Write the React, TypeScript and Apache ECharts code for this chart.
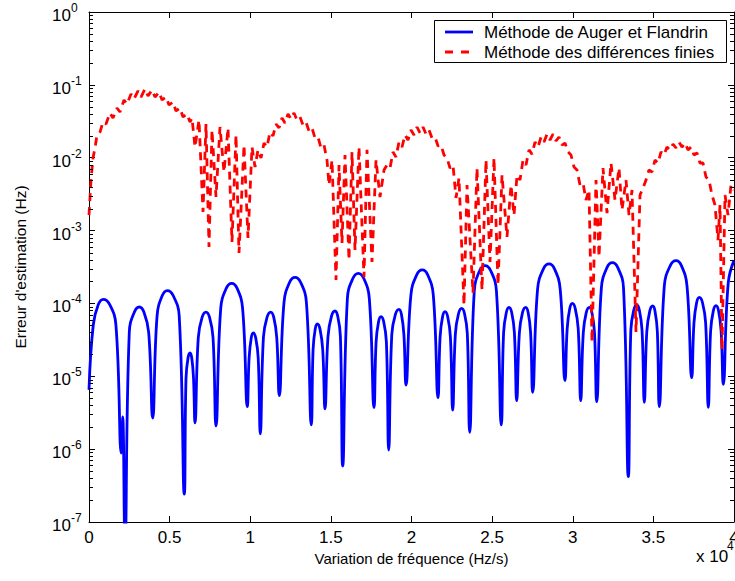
import React, { useEffect, useRef } from 'react';
import * as echarts from 'echarts';

const FONT = '"Liberation Sans", Arial, Helvetica, sans-serif';

const seriesNames = ['Méthode de Auger et Flandrin', 'Méthode des différences finies'];
const xAxisTitle = 'Variation de fréquence (Hz/s)';
const yAxisTitle = "Erreur d'estimation (Hz)";
const xExponentLabel = 'x 10';
const xExponent = '4';

const xMin = 0;
const xMax = 40000;
const xStep = 5000;
const xScale = 10000;
const yMin = 1e-7;
const yMax = 1;

// Blue curve: dips, shoulders and lobe tops
const augerFlandrin: [number, number][] = [
  [0, 6.5e-6], [266, 5.1e-5], [577, 9.7e-5], [887, 1.14e-4], [1278, 9.7e-5], [1668, 5.1e-5],
  [2003, 8.85e-7], [2090, 2.76e-6], [2233, 5e-8],
  [2499, 4.02e-5], [2809, 7.59e-5], [3119, 8.93e-5], [3410, 7.59e-5], [3701, 4.02e-5], [3950, 2.67e-6],
  [4222, 6.75e-5], [4539, 1.275e-4], [4856, 1.5e-4], [5225, 1.275e-4], [5594, 6.75e-5], [5910, 2.42e-7],
  [6016, 9.4e-6], [6140, 1.78e-5], [6264, 2.09e-5], [6373, 1.78e-5], [6481, 9.4e-6], [6574, 2.29e-6],
  [6779, 3.43e-5], [7017, 6.48e-5], [7256, 7.62e-5], [7473, 6.48e-5], [7690, 3.43e-5], [7876, 2.08e-6],
  [8168, 8.5e-5], [8509, 1.61e-4], [8850, 1.89e-4], [9188, 1.61e-4], [9527, 8.5e-5], [9817, 3.83e-6],
  [9929, 1.77e-5], [10059, 3.34e-5], [10190, 3.93e-5], [10342, 3.34e-5], [10494, 1.77e-5], [10624, 1.62e-6],
  [10818, 3.43e-5], [11043, 6.48e-5], [11269, 7.62e-5], [11456, 6.48e-5], [11642, 3.43e-5], [11802, 5.42e-6],
  [12094, 1.03e-4], [12434, 1.94e-4], [12775, 2.28e-4], [13129, 1.94e-4], [13483, 1.03e-4], [13786, 2.15e-6],
  [13898, 2.35e-5], [14028, 4.44e-5], [14158, 5.22e-5], [14325, 4.44e-5], [14493, 2.35e-5], [14636, 3.56e-6],
  [14822, 3.54e-5], [15039, 6.69e-5], [15256, 7.87e-5], [15423, 6.69e-5], [15590, 3.54e-5], [15733, 5.87e-7],
  [16023, 1.17e-4], [16362, 2.2e-4], [16701, 2.59e-4], [17042, 2.2e-4], [17383, 1.17e-4], [17675, 3.71e-6],
  [17805, 2.96e-5], [17957, 5.59e-5], [18109, 6.58e-5], [18276, 5.59e-5], [18443, 2.96e-5], [18586, 9.73e-7],
  [18778, 3.74e-5], [19001, 7.06e-5], [19225, 8.3e-5], [19377, 7.06e-5], [19529, 3.74e-5], [19659, 7.59e-6],
  [19962, 1.3e-4], [20316, 2.45e-4], [20670, 2.88e-4], [21011, 2.45e-4], [21352, 1.3e-4], [21644, 5.08e-6],
  [21774, 3.47e-5], [21926, 6.55e-5], [22078, 7.71e-5], [22245, 6.55e-5], [22412, 3.47e-5], [22555, 3.44e-6],
  [22722, 3.86e-5], [22918, 7.28e-5], [23113, 8.57e-5], [23287, 7.28e-5], [23461, 3.86e-5], [23610, 1.7e-6],
  [23894, 1.49e-4], [24226, 2.81e-4], [24558, 3.3e-4], [24912, 2.81e-4], [25266, 1.49e-4], [25569, 2.15e-6],
  [25712, 3.98e-5], [25880, 7.52e-5], [26047, 8.85e-5], [26214, 7.52e-5], [26381, 3.98e-5], [26524, 4.62e-6],
  [26691, 3.98e-5], [26887, 7.52e-5], [27082, 8.85e-5], [27234, 7.52e-5], [27386, 3.98e-5], [27516, 6.03e-6],
  [27819, 1.57e-4], [28173, 2.96e-4], [28527, 3.48e-4], [28874, 2.96e-4], [29221, 1.57e-4], [29518, 8.75e-6],
  [29655, 4.5e-5], [29814, 8.5e-5], [29973, 1.0e-4], [30155, 8.5e-5], [30338, 4.5e-5], [30494, 4.62e-6],
  [30654, 3.98e-5], [30840, 7.52e-5], [31027, 8.85e-5], [31188, 7.52e-5], [31348, 3.98e-5], [31486, 4.48e-6],
  [31776, 1.63e-4], [32115, 3.08e-4], [32453, 3.62e-4], [32801, 3.08e-4], [33148, 1.63e-4], [33446, 4.19e-7],
  [33602, 4.28e-5], [33785, 8.08e-5], [33967, 9.51e-5], [34132, 8.08e-5], [34297, 4.28e-5], [34438, 4.4e-6],
  [34594, 4.15e-5], [34776, 7.84e-5], [34958, 9.22e-5], [35102, 7.84e-5], [35245, 4.15e-5], [35368, 3.83e-6],
  [35679, 1.74e-4], [36041, 3.28e-4], [36404, 3.86e-4], [36745, 3.28e-4], [37085, 1.74e-4], [37377, 9.57e-6],
  [37519, 5.45e-5], [37684, 1.03e-4], [37849, 1.21e-4], [38044, 1.03e-4], [38240, 5.45e-5], [38407, 3.75e-6],
  [38550, 4.19e-5], [38717, 7.91e-5], [38884, 9.31e-5], [39042, 7.91e-5], [39200, 4.19e-5], [39336, 7.76e-6],
  [39641, 1.9e-4], [40000, 3.9e-4],
];

// Red dashed curve: ripple tops / bottoms and deep excursions
const differencesFinies: [number, number][] = [
  [0, 1.63e-3], [124, 4.94e-3], [248, 9.91e-3], [372, 1.36e-2], [496, 2.05e-2], [682, 2.25e-2],
  [868, 3.09e-2], [1054, 2.9e-2], [1302, 4.11e-2], [1488, 3.51e-2], [1736, 4.81e-2], [1922, 4.24e-2],
  [2171, 6.2e-2], [2357, 5.46e-2], [2605, 7.49e-2], [2791, 6.4e-2], [3039, 8.24e-2], [3225, 6.81e-2],
  [3473, 8.77e-2], [3659, 7.03e-2], [3907, 8.5e-2], [4093, 6.81e-2], [4341, 7.98e-2], [4527, 6.2e-2],
  [4775, 6.81e-2], [4961, 5.29e-2], [5209, 5.82e-2], [5395, 4.38e-2], [5643, 4.81e-2], [5829, 3.62e-2],
  [6078, 3.99e-2], [6264, 3.09e-2], [6388, 3.51e-2], [6574, 1.4e-2], [6822, 3.29e-2], [7070, 1.8e-3],
  [7256, 2.9e-2], [7442, 5.95e-4], [7628, 2.4e-2], [7876, 2.89e-3], [8124, 2.64e-2], [8372, 6.37e-3],
  [8620, 2.56e-2], [8868, 6.97e-4], [9116, 2.05e-2], [9302, 4.92e-4], [9613, 1.49e-2], [9861, 7.91e-4],
  [10109, 1.4e-2], [10295, 7.45e-3], [10481, 1.28e-2], [10667, 9.91e-3], [10853, 1.59e-2], [11039, 1.4e-2],
  [11225, 2.25e-2], [11411, 1.99e-2], [11597, 2.9e-2], [11783, 2.56e-2], [11969, 3.51e-2], [12155, 2.99e-2],
  [12341, 3.99e-2], [12527, 3.4e-2], [12713, 4.11e-2], [12899, 3.29e-2], [13085, 3.62e-2], [13271, 2.81e-2],
  [13457, 3.09e-2], [13643, 2.32e-2], [13830, 2.56e-2], [14016, 1.86e-2], [14202, 1.92e-2], [14388, 1.36e-2],
  [14574, 1.49e-2], [14760, 9.3e-3], [14884, 4.22e-3], [15070, 9.3e-3], [15318, 2.1e-4], [15506, 7.94e-3],
  [15690, 6.75e-4], [15876, 1.09e-2], [16124, 3.95e-4], [16310, 1.2e-2], [16496, 5.41e-4], [16744, 1.4e-2],
  [17054, 2.3e-4], [17240, 1.28e-2], [17550, 3.7e-4], [17799, 9.3e-3], [18047, 2.89e-3], [18295, 6.79e-3],
  [18481, 7.94e-3], [18667, 7.22e-3], [18853, 1.2e-2], [19039, 1.02e-2], [19225, 1.64e-2], [19411, 1.4e-2],
  [19597, 2.05e-2], [19783, 1.75e-2], [19969, 2.4e-2], [20155, 2.05e-2], [20341, 2.64e-2], [20527, 2.18e-2],
  [20713, 2.64e-2], [20899, 2.11e-2], [21085, 2.4e-2], [21271, 1.86e-2], [21458, 1.92e-2], [21644, 1.45e-2],
  [21830, 1.49e-2], [22016, 1.09e-2], [22202, 9.91e-3], [22388, 7.22e-3], [22574, 7.94e-3], [22760, 2.8e-3],
  [22946, 5.26e-3], [23256, 9.52e-5], [23442, 4.22e-3], [23814, 1.39e-4], [24062, 7.22e-3], [24372, 1.53e-4],
  [24620, 9.3e-3], [24868, 3.7e-4], [25116, 9.91e-3], [25365, 1.79e-4], [25613, 5.79e-3], [25923, 8.16e-4],
  [26171, 4.22e-3], [26357, 1.63e-3], [26543, 5.79e-3], [26729, 4.94e-3], [26915, 9.3e-3], [27101, 7.94e-3],
  [27287, 1.28e-2], [27473, 1.12e-2], [27659, 1.64e-2], [27845, 1.4e-2], [28031, 1.92e-2], [28217, 1.64e-2],
  [28403, 2.11e-2], [28589, 1.75e-2], [28775, 2.11e-2], [28961, 1.7e-2], [29148, 1.92e-2], [29334, 1.49e-2],
  [29520, 1.59e-2], [29706, 1.2e-2], [29892, 1.09e-2], [30078, 7.45e-3], [30264, 6.79e-3], [30450, 4.22e-3],
  [30636, 4.5e-3], [30822, 2.63e-3], [31008, 3.61e-3], [31194, 2.95e-5], [31442, 4.94e-3], [31628, 4.34e-4],
  [31876, 7.22e-3], [32124, 1.74e-3], [32372, 8.46e-3], [32620, 2.63e-3], [32868, 7.22e-3], [33054, 1.92e-3],
  [33303, 4.94e-3], [33489, 1.63e-3], [33675, 3.61e-3], [33923, 4.06e-5], [34171, 3.08e-3], [34357, 3.84e-3],
  [34543, 4.94e-3], [34729, 6.79e-3], [34915, 6.37e-3], [35101, 9.3e-3], [35287, 8.46e-3], [35473, 1.2e-2],
  [35659, 1.09e-2], [35845, 1.4e-2], [36031, 1.28e-2], [36217, 1.54e-2], [36404, 1.36e-2], [36590, 1.64e-2],
  [36776, 1.4e-2], [36962, 1.59e-2], [37148, 1.28e-2], [37334, 1.4e-2], [37520, 1.09e-2], [37706, 1.16e-2],
  [37892, 8.46e-3], [38078, 8.46e-3], [38264, 5.43e-3], [38450, 4.94e-3], [38636, 3.08e-3], [38822, 2.24e-3],
  [39008, 7.42e-4], [39132, 2.24e-3], [39256, 2.29e-5], [39442, 3.08e-3], [39628, 1.63e-3], [39814, 4.22e-3],
  [40000, 3.61e-3],
];

// log minor tick values (2..9 x 10^n)
const minorTickMultipliers = [2, 3, 4, 5, 6, 7, 8, 9];
const decadeExponents = [-7, -6, -5, -4, -3, -2, -1];
const minorTickValues: number[] = [];
decadeExponents.forEach((e) => minorTickMultipliers.forEach((m) => minorTickValues.push(m * Math.pow(10, e))));

const BLUE = '#0000ff';
const RED = '#ff0000';

export default function App() {
  const ref = useRef<HTMLDivElement>(null);

  useEffect(() => {
    if (!ref.current) return;
    const chart = echarts.init(ref.current, undefined, { renderer: 'svg' });

    const axisLine = { show: true, onZero: false, lineStyle: { color: '#000', width: 1 } };
    const yLabelRich = {
      b: { fontSize: 17, fontFamily: FONT, color: '#000', padding: [7, 0, 0, 0] },
      s: { fontSize: 12, fontFamily: FONT, color: '#000', padding: [0, 0, 8, 0] },
    };

    const option: any = {
      animation: false,
      backgroundColor: '#ffffff',
      grid: { left: 89, top: 12, right: 1, bottom: 59, containLabel: false, outerBoundsMode: 'none' },
      xAxis: [
        {
          type: 'value', position: 'bottom', min: xMin, max: xMax, interval: xStep,
          axisLine,
          axisTick: { show: true, inside: true, length: 6, lineStyle: { color: '#000', width: 1 } },
          axisLabel: {
            show: true, color: '#000', fontSize: 17, fontFamily: FONT, margin: 7,
            formatter: (v: number) => String(v / xScale),
            showMinLabel: true, showMaxLabel: true,
          },
          splitLine: { show: false },
          name: xAxisTitle, nameLocation: 'middle', nameGap: 26,
          nameTextStyle: { color: '#000', fontSize: 15, fontFamily: FONT },
        },
        {
          type: 'value', position: 'top', min: xMin, max: xMax, interval: xStep,
          axisLine,
          axisTick: { show: true, inside: true, length: 6, lineStyle: { color: '#000', width: 1 } },
          axisLabel: { show: false },
          splitLine: { show: false },
        },
      ],
      yAxis: [
        {
          type: 'log', logBase: 10, position: 'left', min: yMin, max: yMax, splitNumber: 7,
          axisLine,
          axisTick: { show: true, inside: true, length: 6, lineStyle: { color: '#000', width: 1 } },
          axisLabel: {
            show: true, align: 'left', margin: 37,
            formatter: (v: number) => `{b|10}{s|${Math.round(Math.log10(v))}}`,
            rich: yLabelRich,
          },
          splitLine: { show: false },
          minorTick: { show: false },
          name: yAxisTitle, nameLocation: 'middle', nameGap: 61, nameRotate: 90,
          nameTextStyle: { color: '#000', fontSize: 15.5, fontFamily: FONT },
        },
        {
          type: 'log', logBase: 10, position: 'right', min: yMin, max: yMax, splitNumber: 7,
          axisLine,
          axisTick: { show: true, inside: true, length: 6, lineStyle: { color: '#000', width: 1 } },
          axisLabel: { show: false },
          splitLine: { show: false },
        },
      ],
      series: [
        {
          name: seriesNames[0], type: 'line', xAxisIndex: 0, yAxisIndex: 0,
          data: augerFlandrin, symbol: 'none', smooth: 0.45, clip: true,
          lineStyle: { color: BLUE, width: 2.8, join: 'round' }, z: 3,
        },
        {
          name: seriesNames[1], type: 'line', xAxisIndex: 0, yAxisIndex: 0,
          data: differencesFinies, symbol: 'none', smooth: false, clip: true,
          lineStyle: { color: RED, width: 2.8, type: [8, 6], join: 'bevel', cap: 'butt' }, z: 4,
        },
        {
          type: 'custom', xAxisIndex: 0, yAxisIndex: 0, silent: true, clip: false, z: 5,
          data: minorTickValues.map((v) => [xMin, v]),
          renderItem: (params: any, api: any) => {
            const p = api.coord([xMin, api.value(1)]);
            const cs = params.coordSys;
            const left = cs.x;
            const right = cs.x + cs.width;
            const y = Math.round(p[1]) + 0.5;
            return {
              type: 'group',
              children: [
                { type: 'line', shape: { x1: left, y1: y, x2: left + 4, y2: y }, style: { stroke: '#000', lineWidth: 1 } },
                { type: 'line', shape: { x1: right - 4, y1: y, x2: right, y2: y }, style: { stroke: '#000', lineWidth: 1 } },
              ],
            };
          },
        },
      ],
      graphic: [
        {
          type: 'rect', z: 100,
          shape: { x: 434.5, y: 20.5, width: 292, height: 42 },
          style: { fill: '#fff', stroke: '#000', lineWidth: 1 },
        },
        {
          type: 'line', z: 101,
          shape: { x1: 445, y1: 32, x2: 473, y2: 32 },
          style: { stroke: BLUE, lineWidth: 2.8 },
        },
        {
          type: 'line', z: 101,
          shape: { x1: 445, y1: 52, x2: 473, y2: 52 },
          style: { stroke: RED, lineWidth: 2.8, lineDash: [8, 8] },
        },
        {
          type: 'text', z: 101, x: 484, y: 32,
          style: { text: seriesNames[0], fill: '#000', fontSize: 17, fontFamily: FONT, verticalAlign: 'middle', align: 'left' },
        },
        {
          type: 'text', z: 101, x: 484, y: 52,
          style: { text: seriesNames[1], fill: '#000', fontSize: 17, fontFamily: FONT, verticalAlign: 'middle', align: 'left' },
        },
        {
          type: 'text', z: 101, x: 696, y: 556,
          style: { text: xExponentLabel, fill: '#000', fontSize: 17, fontFamily: FONT, verticalAlign: 'middle', align: 'left' },
        },
        {
          type: 'text', z: 101, x: 727, y: 546,
          style: { text: xExponent, fill: '#000', fontSize: 12, fontFamily: FONT, verticalAlign: 'middle', align: 'left' },
        },
      ],
    };

    chart.setOption(option);
    return () => chart.dispose();
  }, []);

  return (
    <div
      ref={ref}
      style={{ position: 'absolute', left: 0, top: 0, width: 735, height: 581, background: '#fff' }}
    />
  );
}
